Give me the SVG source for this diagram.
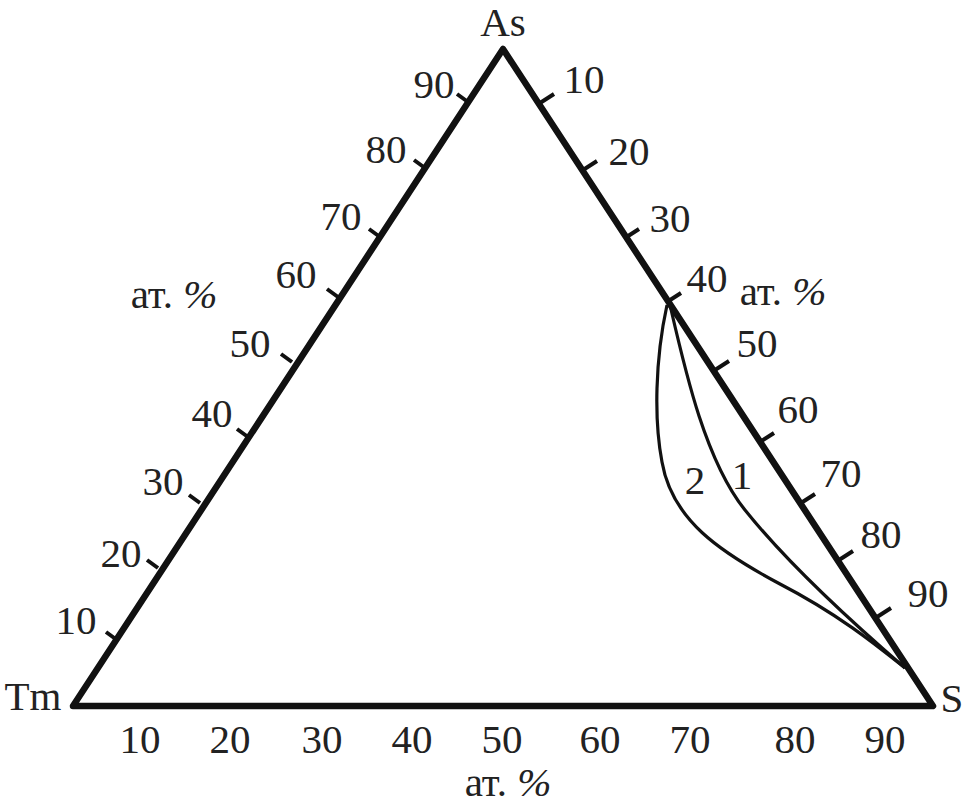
<svg xmlns="http://www.w3.org/2000/svg" width="965" height="806" viewBox="0 0 965 806">
<style>
.edge{fill:none;stroke:#111;stroke-width:6.5;stroke-linecap:round;stroke-linejoin:round}
.tick{fill:none;stroke:#111;stroke-width:4}
.curve{fill:none;stroke:#111;stroke-width:3.2}
text{font-family:"Liberation Serif","Times New Roman",serif;font-size:41px;fill:#222;text-anchor:middle}
.pc{font-style:italic}
</style>
<rect width="965" height="806" fill="#fff"/>
<g id="triangle">
<path class="edge" d="M73,706 L503,49 L933,706 Z"/>
</g>
<g id="ticks-left">
<path class="tick" d="M117,640 l-11,-8 M158,568 l-11,-8 M200,503 l-11,-8 M248,437 l-11,-8 M292,362 l-11,-8 M338,297 l-11,-8 M380,237 l-11,-8 M425,168 l-11,-8 M468,102 l-11,-8"/>
</g>
<g id="ticks-right">
<path class="tick" d="M540,103 l14,-9 M583,170 l14,-9 M625,238 l14,-9 M667,302 l14,-9 M715,370 l14,-9 M760,442 l14,-9 M801,503 l14,-9 M839,560 l14,-9 M877,617 l14,-9"/>
</g>
<g id="connectors">
<path id="curve1" class="curve" d="M670,305 C685,370 705,460 745,510 C785,560 840,612 905,668"/>
<path id="curve2" class="curve" d="M667,305 C655,360 654,420 662,462 C672,520 720,552 780,584 C840,615 880,648 905,668"/>
</g>
<g id="curve-labels">
<text x="695" y="494">2</text>
<text x="742" y="489">1</text>
</g>
<g id="vertex-labels">
<text x="503" y="36">As</text>
<text x="33" y="710">Tm</text>
<text x="952" y="712">S</text>
</g>
<g id="left-labels">
<text x="76" y="634">10</text>
<text x="121" y="567">20</text>
<text x="163" y="495">30</text>
<text x="212" y="427">40</text>
<text x="250" y="357">50</text>
<text x="296" y="288">60</text>
<text x="341" y="230">70</text>
<text x="386" y="163">80</text>
<text x="434" y="98">90</text>
<text x="174" y="308">ат. <tspan class="pc">%</tspan></text>
</g>
<g id="right-labels">
<text x="584" y="93">10</text>
<text x="629" y="165">20</text>
<text x="670" y="232">30</text>
<text x="707" y="292">40</text>
<text x="757" y="357">50</text>
<text x="798" y="423">60</text>
<text x="841" y="487">70</text>
<text x="881" y="548">80</text>
<text x="928" y="607">90</text>
<text x="783" y="305">ат. <tspan class="pc">%</tspan></text>
</g>
<g id="bottom-labels">
<text x="140" y="753">10</text>
<text x="230" y="753">20</text>
<text x="322" y="753">30</text>
<text x="412" y="753">40</text>
<text x="502" y="753">50</text>
<text x="600" y="753">60</text>
<text x="690" y="753">70</text>
<text x="795" y="753">80</text>
<text x="885" y="753">90</text>
<text x="508" y="796">ат. <tspan class="pc">%</tspan></text>
</g>
</svg>
